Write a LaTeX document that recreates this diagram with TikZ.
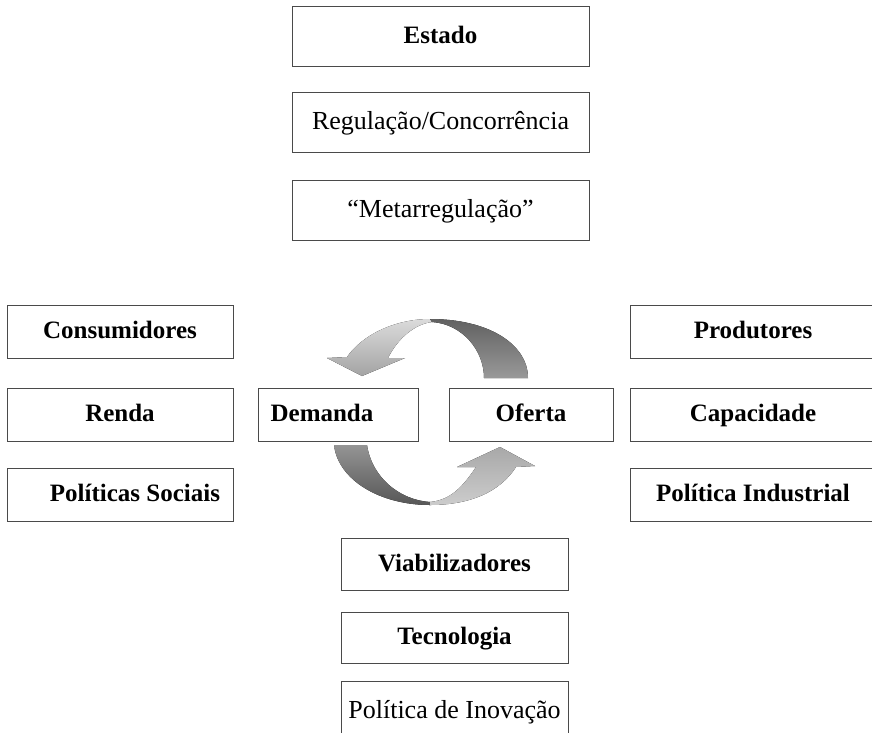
\documentclass[tikz,border=0pt]{standalone}
\usepackage{fontspec}
\setmainfont{Liberation Serif}
\usepackage{tikz}
\usetikzlibrary{positioning,shapes,calc}
\definecolor{mktLine}{HTML}{4A4A4A}
\tikzset{
    mktBoxBase/.style={
        rectangle,
        draw=mktLine,
        line width=1pt,
        fill=white,
        align=center,
        text height=20pt,
        text depth=6pt,
        inner sep=2pt
    },
    % Text variants
    mktBold/.style={mktBoxBase, font=\fontsize{25}{28}\selectfont\bfseries},
    mktPlain/.style={mktBoxBase, font=\fontsize{26}{30}\selectfont},
    % Sizes per column
    mktTop/.style={minimum width=297pt, minimum height=60pt},
    mktSide/.style={minimum width=226pt, minimum height=53pt},
    mktEdge/.style={minimum width=246pt, minimum height=53pt},
    mktLow/.style={minimum width=227pt, minimum height=52pt},
    % Cycle arrows
    mktDark/.style={draw=none, top color=black!42, bottom color=black!66},
    mktDarkTop/.style={draw=none, top color=black!62, bottom color=black!40},
    mktLight/.style={draw=none, top color=black!14, bottom color=black!36},
    mktLightLow/.style={draw=none, top color=black!34, bottom color=black!20}
}

\begin{document}
\begin{tikzpicture}[x=1pt, y=1pt]
    \useasboundingbox (0,0) rectangle (872,-732);

    % Estado
    \node[mktBold, mktTop] (estado) at (440.5,-36.5) {Estado};
    \node[mktPlain, mktTop, below of=estado, node distance=86pt] (regulacao) {Regulação/Concorrência};
    \node[mktPlain, mktTop, below of=regulacao, node distance=88pt] (meta) {“Metarregulação”};

    % Demand side
    \node[mktBold, mktSide] (consumidores) at (120,-331.5) {Consumidores};
    \node[mktBold, mktSide, below of=consumidores, node distance=83pt] (renda) {Renda};
    \node[mktBold, mktSide, below of=renda, node distance=80pt] (sociais) {\hspace*{30pt}Políticas Sociais};

    % Supply side
    \node[mktBold, mktEdge] (produtores) at (753,-331.5) {Produtores};
    \node[mktBold, mktEdge, below of=produtores, node distance=83pt] (capacidade) {Capacidade};
    \node[mktBold, mktEdge, below of=capacidade, node distance=80pt] (industrial) {Política Industrial};

    % Market
    \node[mktBold, minimum width=160pt, minimum height=53pt] (demanda) at (338,-414.5) {Demanda\hspace*{32pt}};
    \node[mktBold, minimum width=164pt, minimum height=53pt] (oferta) at (531,-414.5) {Oferta};

    % Enablers
    \node[mktBold, mktLow] (viab) at (454.5,-564) {Viabilizadores};
    \node[mktBold, mktLow, minimum height=51pt, below of=viab, node distance=73.5pt] (tecnologia) {Tecnologia};
    \node[mktPlain, mktLow, minimum height=60pt, below of=tecnologia, node distance=73.5pt] (inovacao) {Política de Inovação};

    % Supply -> demand (upper arrow)
    \fill[mktLight] (430,-319) .. controls (395,-319) and (362,-335) .. (347,-357)
        -- (327,-358) -- (362,-376) -- (405,-358) -- (388,-358)
        .. controls (398,-338) and (415,-324) .. (432,-322) -- cycle;
    \fill[mktDarkTop] (430,-319) .. controls (490,-319) and (528,-345) .. (528,-378)
        -- (484,-378) .. controls (484,-350) and (462,-324) .. (432,-322) -- cycle;

    % Demand -> supply (lower arrow)
    \fill[mktDark] (334,-445) -- (367,-445)
        .. controls (372,-478) and (400,-500) .. (430,-502)
        -- (430,-505) .. controls (380,-505) and (338,-480) .. (334,-445) -- cycle;
    \fill[mktLightLow] (430,-505) .. controls (470,-505) and (500,-492) .. (516,-467)
        -- (535,-466) -- (500,-447) -- (457,-467) -- (476,-467)
        .. controls (462,-488) and (450,-500) .. (430,-502) -- cycle;
\end{tikzpicture}
\end{document}
